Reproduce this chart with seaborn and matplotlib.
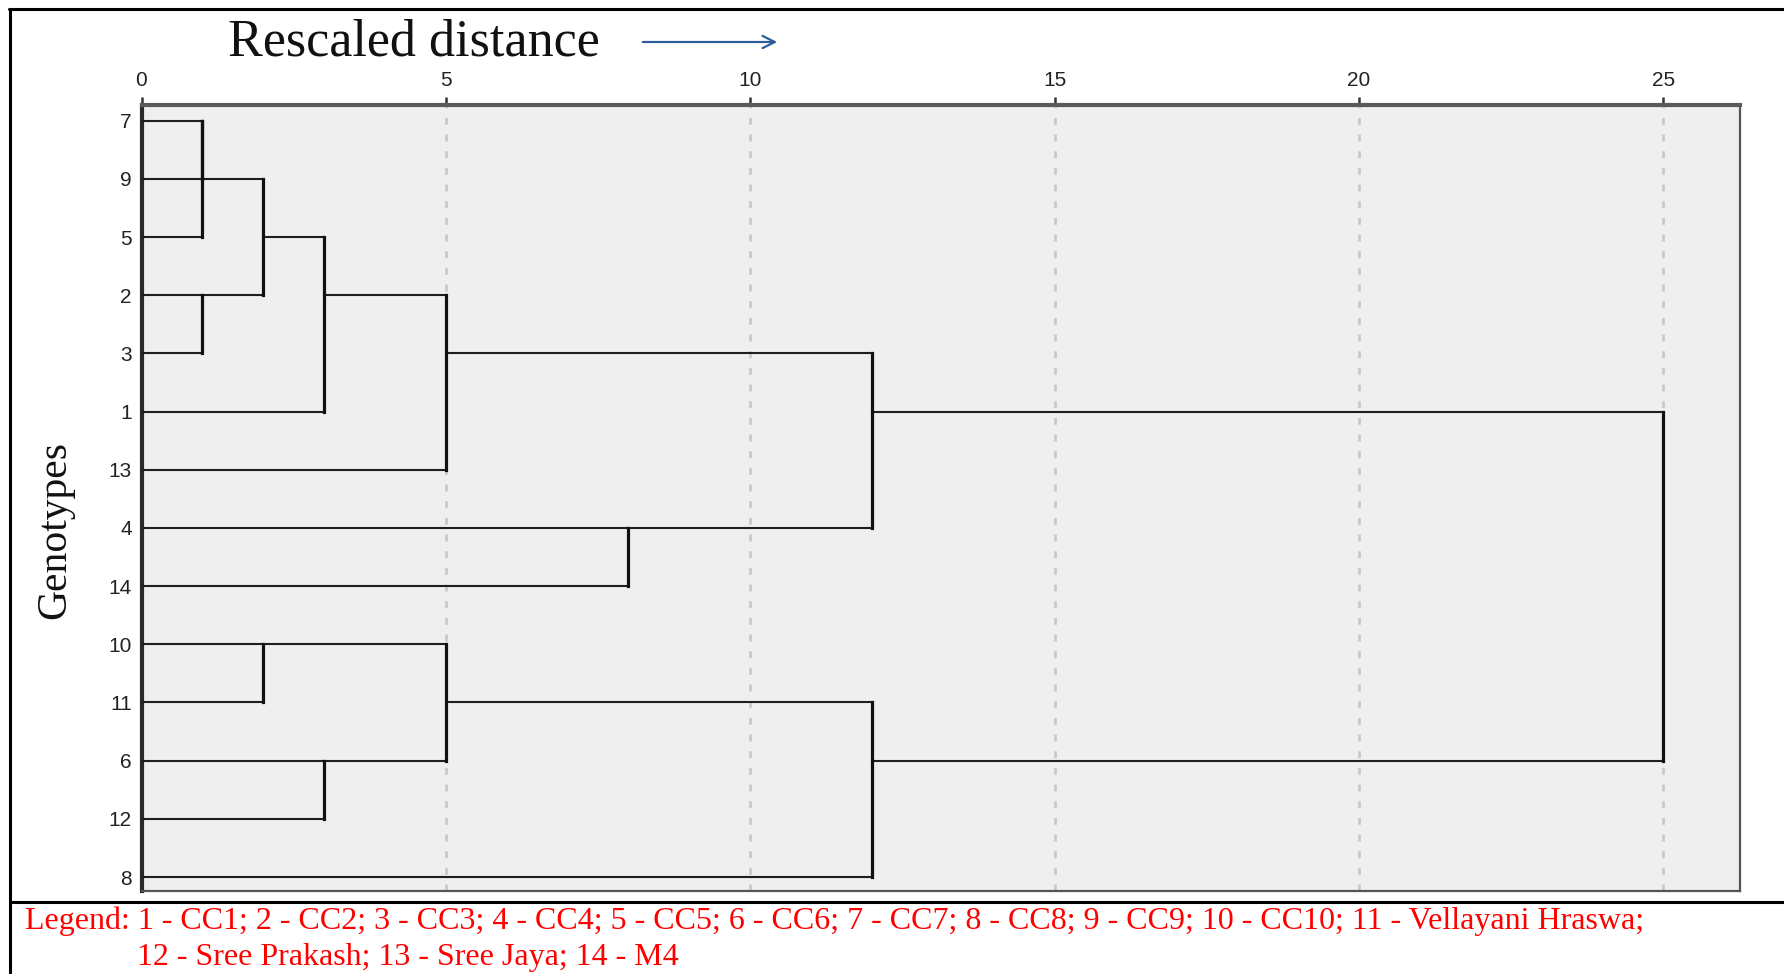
import numpy as np
import pandas as pd
import matplotlib
matplotlib.use('Agg')
import matplotlib.pyplot as plt
from matplotlib.lines import Line2D
import seaborn as sns

# ---------------- data ----------------
leaf_labels = ['7', '9', '5', '2', '3', '1', '13', '4', '14', '10', '11', '6', '12', '8']
merge_left = ['7', 'C0', '2', 'C1', 'C3', 'C4', '4', 'C5', '10', '6', 'C8', 'C10', 'C7']
merge_right = ['9', '5', '3', 'C2', '1', '13', '14', 'C6', '11', '12', 'C9', '8', 'C11']
merge_height = [1, 1, 1, 2, 3, 5, 8, 12, 2, 3, 5, 12, 25]
x_ticks = [0, 5, 10, 15, 20, 25]
title_text = 'Rescaled distance'
ylabel_text = 'Genotypes'
legend_line1 = ('Legend: 1 - CC1; 2 - CC2; 3 - CC3; 4 - CC4; 5 - CC5; 6 - CC6; 7 - CC7; '
                '8 - CC8; 9 - CC9; 10 - CC10; 11 - Vellayani Hraswa;')
legend_line2 = '12 - Sree Prakash; 13 - Sree Jaya; 14 - M4'

# ---------------- dendrogram geometry (SPSS style) ----------------
pos = {lab: (0.0, i) for i, lab in enumerate(leaf_labels)}
h_rows, v_rows = [], []
seg = 0
for k, (a, b, h) in enumerate(zip(merge_left, merge_right, merge_height)):
    xa, ya = pos[a]
    xb, yb = pos[b]
    for (xs, ys) in ((xa, ya), (xb, yb)):
        h_rows.append({'x': xs, 'y': ys, 'seg': seg})
        h_rows.append({'x': h, 'y': ys, 'seg': seg})
        seg += 1
    v_rows.append({'x': h, 'y': ya, 'seg': seg})
    v_rows.append({'x': h, 'y': yb, 'seg': seg})
    seg += 1
    pos[f'C{k}'] = (h, (ya + yb) // 2)
hdf = pd.DataFrame(h_rows)
vdf = pd.DataFrame(v_rows)

# ---------------- figure ----------------
W, H = 1784, 974
sns.set_theme(style='white')
plt.rcParams['font.family'] = ['Liberation Sans', 'DejaVu Sans']
fig = plt.figure(figsize=(W / 100, H / 100), dpi=100)
fig.patch.set_facecolor('white')

ax = fig.add_axes([141.5 / W, 1 - 891 / H, (1740 - 141.5) / W, (891 - 105) / H])
ax.set_facecolor('#efefef')

ax.set_xlim(0, 26.26)
ax.set_ylim(13.24, -0.27)

sns.lineplot(data=hdf, x='x', y='y', units='seg', estimator=None, sort=False,
             color='#1e1e1e', lw=1.5, ax=ax, legend=False,
             solid_capstyle='projecting', zorder=3)
sns.lineplot(data=vdf, x='x', y='y', units='seg', estimator=None, sort=False,
             color='#111111', lw=2.3, ax=ax, legend=False,
             solid_capstyle='projecting', zorder=3)

ax.set_xlabel('')
ax.set_ylabel('')
ax.xaxis.tick_top()
ax.set_xticks(x_ticks)
ax.set_xticklabels([str(t) for t in x_ticks])
ax.set_yticks(range(len(leaf_labels)))
ax.set_yticklabels(leaf_labels)
ax.tick_params(axis='x', which='both', top=True, bottom=False, direction='out',
               length=6, width=1.8, color='#333333', pad=5, labelsize=15,
               labelcolor='#222222')
ax.tick_params(axis='y', which='both', left=False, length=0, pad=7,
               labelsize=15, labelcolor='#222222')

for xv in x_ticks[1:]:
    ax.axvline(xv, color='#c9c9c9', lw=2.0, ls=(0, (2.5, 3.5)), zorder=1)

for side, col, lw in (('left', '#2a2a2a', 3.0), ('top', '#5a5a5a', 3.0),
                      ('right', '#555555', 1.6), ('bottom', '#555555', 1.6)):
    ax.spines[side].set_visible(True)
    ax.spines[side].set_color(col)
    ax.spines[side].set_linewidth(lw)

# title and arrow
fig.text(227.5 / W, 1 - 55 / H, title_text, ha='left', va='baseline',
         fontsize=37.5, family='Liberation Serif', color='#111111')
ax.annotate('', xy=(780 / W, 1 - 42 / H), xytext=(640 / W, 1 - 42 / H),
            xycoords='figure fraction', textcoords='figure fraction',
            arrowprops=dict(arrowstyle='->', color='#2e5c9a', lw=1.6,
                            mutation_scale=22))

# y label
fig.text(55 / W, 1 - 530 / H, ylabel_text, rotation=90, ha='center', va='center',
         fontsize=30, family='Liberation Serif', color='#111111')

# legend text
fig.text(25 / W, 1 - 921 / H, legend_line1, ha='left', va='center',
         fontsize=23, family='Liberation Serif', color='red')
fig.text(137 / W, 1 - 957 / H, legend_line2, ha='left', va='center',
         fontsize=23, family='Liberation Serif', color='red')

# frame lines
fig.add_artist(Line2D([10 / W, 10 / W], [0, 1 - 9 / H], color='black', lw=2.2))
fig.add_artist(Line2D([9 / W, 1], [1 - 9 / H, 1 - 9 / H], color='black', lw=2.2))
fig.add_artist(Line2D([10 / W, 1], [1 - 902 / H, 1 - 902 / H], color='black', lw=2.2))

fig.savefig('out.png', dpi=100, facecolor='white')
